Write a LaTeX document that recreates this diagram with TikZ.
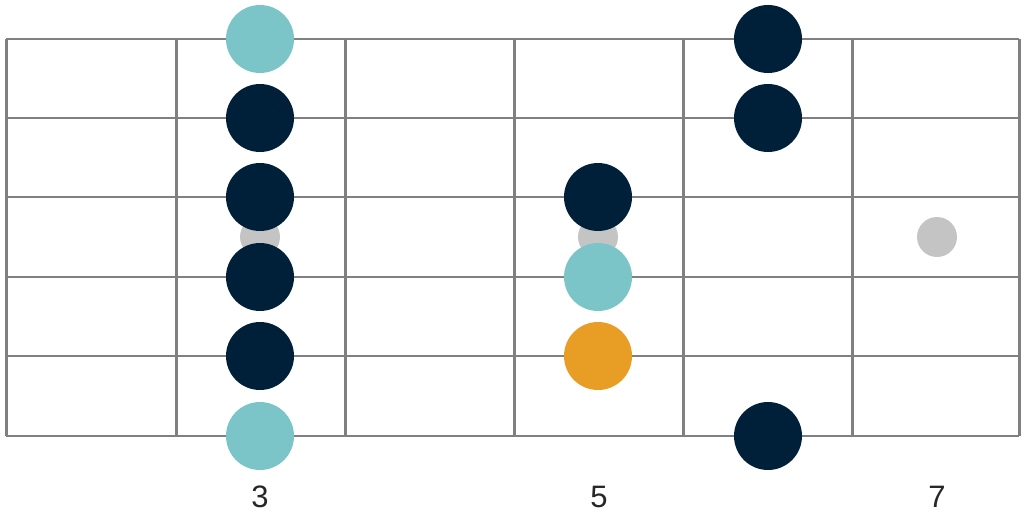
\documentclass[tikz,border=0pt]{standalone}
\usepackage{fontspec}
\setmainfont{Liberation Sans}
\definecolor{teal}{HTML}{7BC5C9}
\definecolor{navy}{HTML}{001F38}
\definecolor{orng}{HTML}{E89D25}
\definecolor{lgray}{HTML}{C4C4C4}
\definecolor{linegray}{HTML}{808080}
\tikzset{
  strg/.style={draw=linegray, line width=1.6pt},
  fret/.style={draw=linegray, line width=3pt},
  dot/.style={circle, minimum size=68pt, inner sep=0pt, draw=none},
  small/.style={circle, minimum size=40pt, inner sep=0pt, fill=lgray, draw=none},
  lbl/.style={font=\fontsize{31pt}{33pt}\selectfont, text=black!85, inner sep=0pt, anchor=base}
}
\begin{document}
\begin{tikzpicture}[x=1pt,y=-1pt]
\useasboundingbox (0,0) rectangle (1024,516);
% strings
\foreach \y/\n in {39/s1,118/s2,197/s3,277/s4,356/s5,436/s6}{
  \coordinate (\n l) at (6,\y);
  \coordinate (\n r) at (1019,\y);
  \draw[strg] (\n l) -- (\n r);
}
% frets
\foreach \x/\n in {6/f0,176/f1,345/f2,514/f3,683/f4,852/f5,1019/f6}{
  \coordinate (\n t) at (\x,39);
  \coordinate (\n b) at (\x,436);
  \draw[fret] (\n t) -- (\n b);
}
% inlay dots
\node[small] (i1) at (260,237) {};
\node[small] (i2) at (598,237) {};
\node[small] (i3) at (937,237) {};
% notes
\node[dot, fill=teal] (n1) at (260,39) {};
\node[dot, fill=navy] (n2) at (260,118) {};
\node[dot, fill=navy] (n3) at (260,197) {};
\node[dot, fill=navy] (n4) at (260,277) {};
\node[dot, fill=navy] (n5) at (260,356) {};
\node[dot, fill=teal] (n6) at (260,436) {};
\node[dot, fill=navy] (n7) at (598,197) {};
\node[dot, fill=teal] (n8) at (598,277) {};
\node[dot, fill=orng] (n9) at (598,356) {};
\node[dot, fill=navy] (n10) at (768,39) {};
\node[dot, fill=navy] (n11) at (768,118) {};
\node[dot, fill=navy] (n12) at (768,436) {};
% labels
\node[lbl] (l3) at (260,507) {3};
\node[lbl] (l5) at (599,507) {5};
\node[lbl] (l7) at (937,507) {7};
\end{tikzpicture}
\end{document}
